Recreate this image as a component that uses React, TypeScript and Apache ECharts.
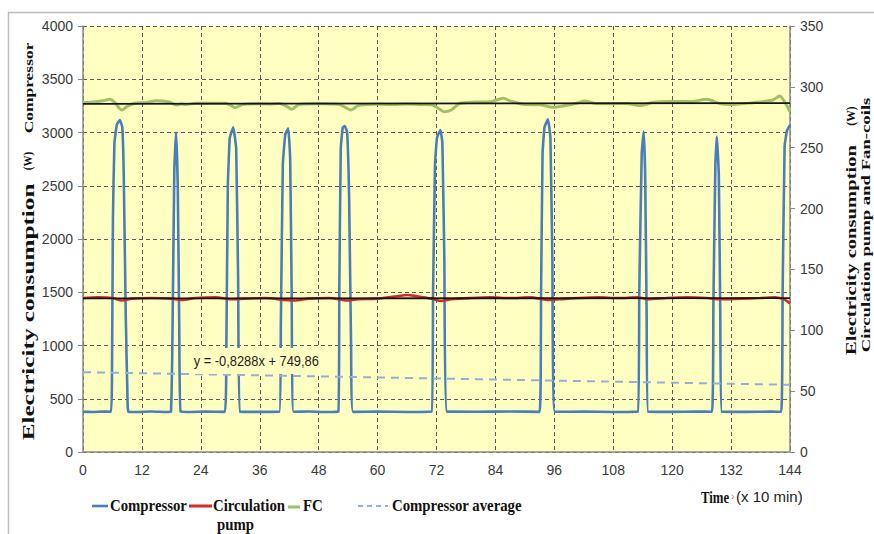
import React, { useEffect, useRef } from 'react';
import * as echarts from 'echarts';

// Time axis (x 10 min) and the two value axes
const timeRange = [0, 144];
const timeStep = 12;
const compressorAxis = [0, 4000, 500];
const auxAxis = [0, 350, 50];

// Compressor electricity consumption (W), [time, value]
const compressorW: [number, number][] = [
  [0, 378], [2, 376], [4, 380], [5.7, 378],
  [5.9, 700], [6.1, 2200], [6.4, 2900], [6.9, 3075], [7.5, 3117], [8.0, 3050], [8.3, 2600], [8.7, 1300], [9.1, 430], [9.3, 376],
  [11, 376], [14, 380], [17, 375], [17.9, 378],
  [18.2, 1000], [18.6, 2650], [18.95, 3000], [19.3, 2500], [19.6, 1200], [19.9, 378],
  [22, 376], [25, 379], [28.9, 377],
  [29.2, 1000], [29.5, 2500], [29.9, 2950], [30.6, 3048], [31.2, 2850], [31.6, 1600], [32.0, 378],
  [35, 377], [40.0, 378],
  [40.3, 1200], [40.7, 2700], [41.2, 2980], [41.8, 3040], [42.2, 2750], [42.5, 1500], [42.9, 378],
  [46, 380], [49, 376], [52.0, 378],
  [52.2, 1500], [52.5, 2850], [52.9, 3045], [53.3, 3061], [53.8, 3000], [54.2, 2400], [54.6, 1000], [55.0, 377],
  [60, 379], [66, 376], [71.0, 378],
  [71.3, 1500], [71.7, 2700], [72.1, 2950], [72.8, 3023], [73.2, 2900], [73.6, 1800], [74.1, 380],
  [80, 378], [87, 380], [93.0, 377],
  [93.3, 1500], [93.6, 2800], [94.0, 3050], [94.7, 3124], [95.2, 2950], [95.6, 1800], [96.1, 378],
  [102, 379], [108, 376], [113.0, 378],
  [113.3, 1500], [113.8, 2800], [114.2, 3008], [114.5, 2600], [114.8, 1300], [115.1, 378],
  [120, 377], [125, 380], [128.1, 378],
  [128.4, 1400], [128.8, 2700], [129.1, 2961], [129.5, 2600], [129.8, 1300], [130.1, 378],
  [135, 377], [140, 379], [142.2, 378],
  [142.5, 1500], [142.9, 2870], [143.4, 3020], [144, 3070],
];

// Circulation pump (W), right axis
const pumpW: [number, number][] = [
  [0, 126.5], [3, 127], [6, 126.5], [8, 124.5], [10, 126], [14, 126.5], [18, 126], [20, 125],
  [23, 126.5], [27, 127], [30, 125.5], [33, 126], [37, 126.5], [41, 125], [43, 124.5], [46, 126],
  [50, 126.5], [54, 124.5], [56, 125.5], [60, 126], [64, 128], [66, 129], [68, 128], [71, 126],
  [73, 124], [75, 125.5], [79, 126.5], [83, 127], [87, 126.5], [91, 127], [95, 125], [97, 125.5],
  [101, 126.5], [105, 127], [109, 126.5], [113, 127], [115, 125.5], [119, 126.5], [123, 127],
  [127, 126.5], [130, 125.5], [134, 126], [138, 126.5], [141, 127], [143, 125], [144, 122],
];

// Fan-coils (W), right axis
const fanCoilW: [number, number][] = [
  [0, 287], [2, 287.5], [4, 288.5], [5.5, 289.8], [6.5, 287], [7.9, 281], [9, 284], [10.5, 286.5],
  [12.5, 287], [15, 288.5], [17.5, 287.5], [19, 285], [20, 286], [21, 285.5], [23, 286.5], [26, 286.6],
  [29, 286.5], [30, 285], [31, 283], [32.5, 285.5], [35, 286.2], [38, 286], [40, 286.3], [41.5, 284],
  [42.5, 281.6], [44, 285.5], [47, 286.2], [50, 286], [52, 285.8], [53.5, 283], [54.6, 281], [56, 284.5],
  [59, 285.8], [63, 285.5], [66, 286], [69, 285.5], [71, 285.3], [72.5, 282], [73.5, 279.6], [75, 281],
  [76.8, 286.5], [80, 287.5], [83, 287.8], [85.6, 290.6], [87, 288.5], [90, 285.5], [93, 285.3],
  [95.8, 283.2], [98, 284.5], [101, 287], [102, 288.4], [104.6, 286.3], [108, 286.2], [110.7, 286.3],
  [113.4, 284.5], [116, 287.2], [120, 288], [124, 288], [127, 289.8], [129.7, 286.3], [132.4, 285.5],
  [136.5, 287], [140.5, 289.2], [141.9, 292.5], [143, 287], [144, 279.6],
];

// Linear trends
const pumpTrend: [number, number][] = [[0, 126.2], [144, 126.4]];
const fanCoilTrend: [number, number][] = [[0, 286.0], [144, 286.6]];
const avgSlope = -0.8288;
const avgIntercept = 749.86;
const avgSpan = [0, 144];

const SERIF = "'Liberation Serif', 'Times New Roman', serif";
const SANS = "'Liberation Sans', Arial, sans-serif";

const BLUE = '#4a7ebb';
const RED = '#d42a2a';
const GREEN = '#a2c068';
const AVG = '#93b1d8';
const PLOT_BG = '#FFFFC2';

export default function App() {
  const ref = useRef<HTMLDivElement>(null);

  useEffect(() => {
    if (!ref.current) return;
    const chart = echarts.init(ref.current, undefined, { renderer: 'svg' });

    const avgLine = avgSpan.map((t) => [t, avgIntercept + avgSlope * t]);
    const eqText = `y = ${String(avgSlope).replace('.', ',')}x + ${String(avgIntercept).replace('.', ',')}`;

    const vText = (text: string, x: number, y: number, size: number, sx: number, sy: number, weight = 'bold') => ({
      type: 'text',
      x,
      y,
      rotation: Math.PI / 2,
      scaleX: sx,
      scaleY: sy,
      silent: true,
      style: {
        text,
        fill: '#111',
        fontFamily: SERIF,
        fontWeight: weight,
        fontSize: size,
        align: 'center',
        verticalAlign: 'middle',
      },
    });

    const hText = (text: string, x: number, y: number, size: number, sx: number, family = SERIF, weight = 'bold', fill = '#111') => ({
      type: 'text',
      x,
      y,
      scaleX: sx,
      silent: true,
      style: {
        text,
        fill,
        fontFamily: family,
        fontWeight: weight,
        fontSize: size,
        align: 'left',
        verticalAlign: 'middle',
      },
    });

    const legendLine = (x1: number, x2: number, y: number, color: string, width: number, dash?: number[]) => ({
      type: 'line',
      silent: true,
      shape: { x1, y1: y, x2, y2: y },
      style: { stroke: color, lineWidth: width, lineDash: dash },
    });

    const axisLabel = {
      color: '#3a3a3a',
      fontSize: 14,
      fontFamily: SANS,
      formatter: (v: number) => String(v),
    };

    const option: any = {
      animation: false,
      backgroundColor: '#ffffff',
      grid: {
        left: 83,
        right: 84,
        top: 26,
        bottom: 82,
        show: true,
        backgroundColor: PLOT_BG,
        borderWidth: 0,
      },
      xAxis: {
        type: 'value',
        min: timeRange[0],
        max: timeRange[1],
        interval: timeStep,
        axisLine: { show: true, lineStyle: { color: '#8a8a8a', width: 1.5 } },
        axisTick: { show: false },
        axisLabel: { ...axisLabel, margin: 11 },
        splitLine: { show: true, lineStyle: { color: '#5a5a5a', type: [4, 3], width: 1 } },
      },
      yAxis: [
        {
          type: 'value',
          min: compressorAxis[0],
          max: compressorAxis[1],
          interval: compressorAxis[2],
          axisLine: { show: true, lineStyle: { color: '#8a8a8a', width: 1.5 } },
          axisTick: { show: true, length: 5, lineStyle: { color: '#8a8a8a' } },
          axisLabel: { ...axisLabel, margin: 10 },
          splitLine: { show: true, lineStyle: { color: '#5a5a5a', type: [4, 3], width: 1 } },
        },
        {
          type: 'value',
          position: 'right',
          min: auxAxis[0],
          max: auxAxis[1],
          interval: auxAxis[2],
          axisLine: { show: true, lineStyle: { color: '#8a8a8a', width: 1.5 } },
          axisTick: { show: true, length: 5, lineStyle: { color: '#8a8a8a' } },
          axisLabel: { ...axisLabel, margin: 10 },
          splitLine: { show: false },
        },
      ],
      series: [
        {
          name: 'Compressor',
          type: 'line',
          yAxisIndex: 0,
          data: compressorW,
          showSymbol: false,
          smooth: 0.12,
          lineStyle: { color: BLUE, width: 2.6, join: 'round' },
          z: 2,
        },
        {
          name: 'Circulation pump',
          type: 'line',
          yAxisIndex: 1,
          data: pumpW,
          showSymbol: false,
          smooth: 0.3,
          lineStyle: { color: RED, width: 2.6 },
          z: 3,
        },
        {
          name: 'FC',
          type: 'line',
          yAxisIndex: 1,
          data: fanCoilW,
          showSymbol: false,
          smooth: 0.3,
          lineStyle: { color: GREEN, width: 3 },
          z: 3,
        },
        {
          name: 'Circulation pump trend',
          type: 'line',
          yAxisIndex: 1,
          data: pumpTrend,
          showSymbol: false,
          lineStyle: { color: '#141414', width: 1.8 },
          z: 4,
        },
        {
          name: 'FC trend',
          type: 'line',
          yAxisIndex: 1,
          data: fanCoilTrend,
          showSymbol: false,
          lineStyle: { color: '#141414', width: 1.8 },
          z: 4,
        },
        {
          name: 'Compressor average',
          type: 'line',
          yAxisIndex: 0,
          data: avgLine,
          showSymbol: false,
          lineStyle: { color: AVG, width: 2, type: [8, 6] },
          z: 4,
        },
      ],
      graphic: [
        {
          type: 'rect',
          silent: true,
          shape: { x: 8.5, y: 12.5, width: 1000, height: 1000 },
          style: { fill: 'none', stroke: '#bdbdbd', lineWidth: 1.5 },
        },
        // trendline equation, boxed over the plot
        {
          type: 'text',
          x: 190,
          y: 361,
          z: 100,
          scaleX: 0.92,
          silent: true,
          style: {
            text: eqText,
            fill: '#1e1e1e',
            fontFamily: SANS,
            fontSize: 14,
            align: 'left',
            verticalAlign: 'middle',
            backgroundColor: PLOT_BG,
            padding: [6, 4, 6, 4],
          },
        },
        // left axis title
        vText('Electricity consumption', 29, 312, 21, 1.2, 0.8),
        vText('(W)', 28, 161, 13, 0.85, 0.9),
        vText('Compressor', 28, 88, 18, 0.97, 0.72),
        // right axis title
        vText('Electricity consumption', 851, 250, 20, 1.03, 0.78),
        vText('(W)', 851, 116, 13, 0.9, 0.9),
        vText('Circulation pump and Fan-coils', 866, 225, 18, 1.04, 0.7),
        // x axis title
        hText('Time', 701, 497, 16, 0.8),
        hText('\u203a', 731, 496, 10, 1, SANS, 'normal', '#888'),
        hText('(x 10 min)', 736, 496, 15, 1.0, SANS, 'normal', '#222'),
        // legend
        legendLine(92, 108, 506, BLUE, 2.6),
        hText('Compressor', 110, 505, 17, 0.87),
        legendLine(189, 212, 506, RED, 3),
        hText('Circulation', 213, 505, 17, 0.87),
        hText('pump', 217, 524, 17, 0.87),
        legendLine(288, 300, 507, GREEN, 3),
        hText('FC', 303, 505, 17, 0.87),
        legendLine(358, 388, 506, AVG, 2, [5, 4]),
        hText('Compressor average', 392, 505, 17, 0.87),
      ],
    };

    chart.setOption(option);
    return () => chart.dispose();
  }, []);

  return (
    <div
      ref={ref}
      style={{ position: 'absolute', left: 0, top: 0, width: 874, height: 534 }}
    />
  );
}
